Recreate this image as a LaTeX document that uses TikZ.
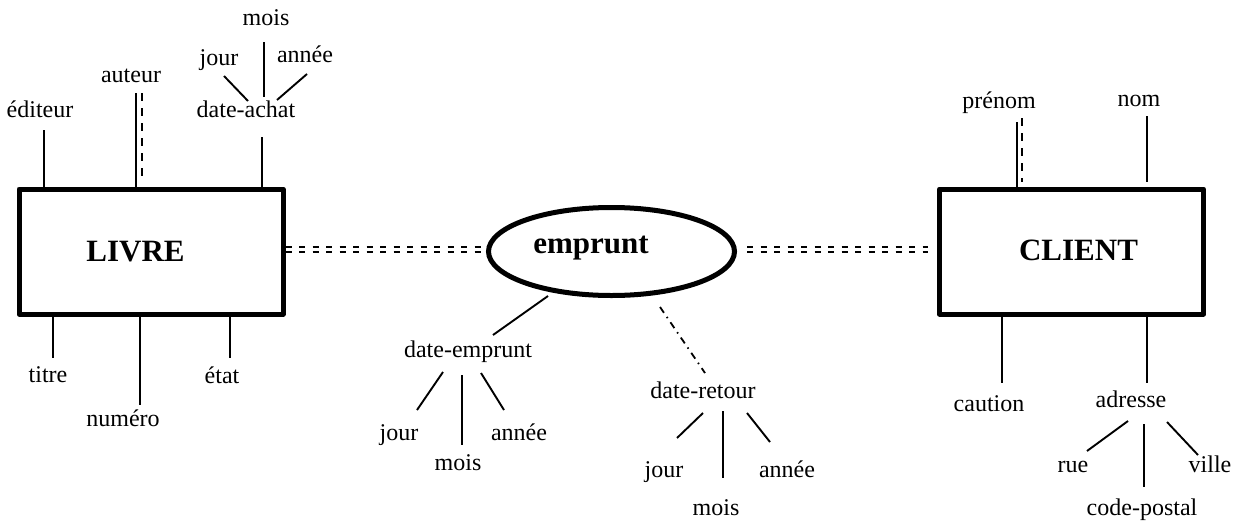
\documentclass[tikz,border=0pt]{standalone}
\usepackage{fontspec}
\setmainfont{Liberation Serif}
\usetikzlibrary{shapes.geometric}
\begin{document}
\begin{tikzpicture}[x=1pt,y=-1pt,
  lbl/.style={font=\fontsize{24}{28}\selectfont, inner sep=0pt, anchor=base},
  big/.style={font=\fontsize{31}{36}\selectfont\bfseries, inner sep=0pt, anchor=base},
  ent/.style={draw, line width=5pt, rectangle, minimum width=264pt, minimum height=125pt, inner sep=0pt, line join=round},
  rel/.style={draw, line width=5pt, ellipse, minimum width=246pt, minimum height=88pt, inner sep=0pt},
  attr/.style={line width=1.9pt},
  dattr/.style={line width=1.9pt, dash pattern=on 8pt off 7pt},
  dbl/.style={line width=1.8pt, dash pattern=on 6pt off 7.5pt},
  dd/.style={line width=1.8pt, dash pattern=on 7pt off 5pt on 1.5pt off 5pt}]
\useasboundingbox (0,0) rectangle (1239,525);

% entities and relation
\node[ent] (livre) at (151,251.5) {};
\node[big] (livretxt) at (135.5,261) {LIVRE};
\node[ent] (client) at (1071.5,251.5) {};
\node[big] (clienttxt) at (1078.5,260) {CLIENT};
\node[rel] (emprunt) at (611.5,251.5) {};
\node[big] (emprunttxt) at (591,253) {emprunt};

% double dashed links
\draw[dbl, shorten >=5pt] ([yshift=4.5pt]livre.east) -- ([yshift=4.5pt]emprunt.west);
\draw[dbl, shorten >=5pt] ([yshift=-0.8pt]livre.east) -- ([yshift=-0.8pt]emprunt.west);
\draw[dbl, shorten <=10pt, shorten >=9pt] ([yshift=4.5pt]emprunt.east) -- ([yshift=4.5pt]client.west);
\draw[dbl, shorten <=10pt, shorten >=9pt] ([yshift=-0.8pt]emprunt.east) -- ([yshift=-0.8pt]client.west);

% LIVRE attributes (top)
\node[lbl] (editeur) at (40,117) {éditeur};
\coordinate (editeurE) at (44,130);
\draw[attr] (editeurE) -- (editeurE |- livre.north);

\node[lbl] (auteur) at (131,82) {auteur};
\coordinate (auteurE) at (136,93);
\coordinate (auteurD) at (142,93);
\coordinate (auteurDe) at (142,178);
\draw[attr] (auteurE) -- (auteurE |- livre.north);
\draw[dattr] (auteurD) -- (auteurDe);

\node[lbl] (dateachat) at (246,117) {date-achat};
\coordinate (dachatE) at (262,137);
\draw[attr] (dachatE) -- (dachatE |- livre.north);
\node[lbl] (jour1) at (219,65) {jour};
\node[lbl] (mois1) at (266,25) {mois};
\node[lbl] (annee1) at (305,62) {année};
\coordinate (j1a) at (224,76); \coordinate (j1b) at (248,101);
\coordinate (m1a) at (264,42); \coordinate (m1b) at (264,97);
\coordinate (a1a) at (307,74); \coordinate (a1b) at (277,100);
\draw[attr] (j1a) -- (j1b);
\draw[attr] (m1a) -- (m1b);
\draw[attr] (a1a) -- (a1b);

% LIVRE attributes (bottom)
\node[lbl] (titre) at (48,382) {titre};
\coordinate (titreE) at (53,358);
\draw[attr] (titreE |- livre.south) -- (titreE);
\node[lbl] (numero) at (123,426) {numéro};
\coordinate (numeroE) at (140,405);
\draw[attr] (numeroE |- livre.south) -- (numeroE);
\node[lbl] (etat) at (222,383) {état};
\coordinate (etatE) at (230,358);
\draw[attr] (etatE |- livre.south) -- (etatE);

% emprunt attributes
\node[lbl] (dateemprunt) at (468,357) {date-emprunt};
\coordinate (deA) at (548,296); \coordinate (deB) at (493,335);
\draw[attr] (deA) -- (deB);
\node[lbl] (jour2) at (399,440) {jour};
\node[lbl] (mois2) at (458,470) {mois};
\node[lbl] (annee2) at (519,440) {année};
\coordinate (j2a) at (443,372); \coordinate (j2b) at (417,410);
\coordinate (m2a) at (462,375); \coordinate (m2b) at (462,445);
\coordinate (a2a) at (481,373); \coordinate (a2b) at (504,410);
\draw[attr] (j2a) -- (j2b);
\draw[attr] (m2a) -- (m2b);
\draw[attr] (a2a) -- (a2b);

\node[lbl] (dateretour) at (703,398) {date-retour};
\coordinate (drA) at (660,307); \coordinate (drB) at (705,373);
\draw[dd] (drA) -- (drB);
\node[lbl] (jour3) at (664,477) {jour};
\node[lbl] (mois3) at (716,515) {mois};
\node[lbl] (annee3) at (787,477) {année};
\coordinate (j3a) at (703,413); \coordinate (j3b) at (677,438);
\coordinate (m3a) at (723,411); \coordinate (m3b) at (723,478);
\coordinate (a3a) at (747,413); \coordinate (a3b) at (770,442);
\draw[attr] (j3a) -- (j3b);
\draw[attr] (m3a) -- (m3b);
\draw[attr] (a3a) -- (a3b);

% CLIENT attributes (top)
\node[lbl] (prenom) at (999,108) {prénom};
\coordinate (prenomE) at (1017,122);
\coordinate (prenomD) at (1022,118);
\coordinate (prenomDe) at (1022,182);
\draw[attr] (prenomE) -- (prenomE |- client.north);
\draw[dattr] (prenomD) -- (prenomDe);
\node[lbl] (nom) at (1139,106) {nom};
\coordinate (nomE) at (1147,116);
\coordinate (nomEe) at (1147,182);
\draw[attr] (nomE) -- (nomEe);

% CLIENT attributes (bottom)
\node[lbl] (caution) at (989,411) {caution};
\coordinate (cautionE) at (1002,383);
\draw[attr] (cautionE |- client.south) -- (cautionE);
\node[lbl] (adresse) at (1131,407) {adresse};
\coordinate (adresseE) at (1147,383);
\draw[attr] (adresseE |- client.south) -- (adresseE);
\node[lbl] (rue) at (1073,472) {rue};
\node[lbl] (ville) at (1210,472) {ville};
\node[lbl] (codepostal) at (1142,515) {code-postal};
\coordinate (ra) at (1128,421); \coordinate (rb) at (1087,451);
\coordinate (ca) at (1144,424); \coordinate (cb) at (1144,487);
\coordinate (va) at (1167,422); \coordinate (vb) at (1198,455);
\draw[attr] (ra) -- (rb);
\draw[attr] (ca) -- (cb);
\draw[attr] (va) -- (vb);
\end{tikzpicture}
\end{document}
